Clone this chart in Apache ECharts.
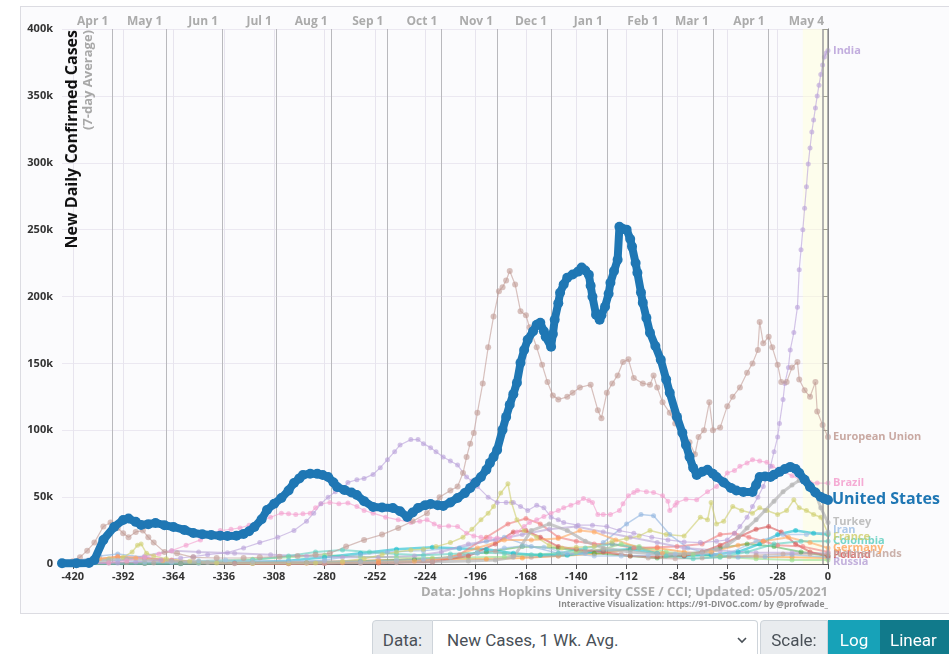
<!DOCTYPE html>
<html><head><meta charset="utf-8">
<script src="https://cdn.jsdelivr.net/npm/echarts@6/dist/echarts.min.js"></script>
<style>
html,body{margin:0;padding:0;width:949px;height:654px;overflow:hidden;background:#fff;}
#frame{position:absolute;left:20px;top:6px;width:940px;height:606px;border:1px solid #dcdce2;border-right:none;background:#fbfbfd;}
#chart{position:absolute;left:0;top:0;width:949px;height:654px;}
.ig{position:absolute;top:620px;height:40px;display:flex;font-family:Roboto,'Liberation Sans',sans-serif;font-size:17px;color:#495057;}
.lab{display:flex;align-items:center;justify-content:center;background:#e9ecef;border:1px solid #ced4da;border-radius:4px 0 0 4px;box-sizing:border-box;height:40px;}
.sel{position:relative;display:flex;align-items:center;padding-left:14px;background:#fff;border:1px solid #ced4da;border-left:none;border-radius:0 4px 4px 0;box-sizing:border-box;height:40px;flex:1;}
.btn{display:flex;align-items:center;justify-content:center;color:#fff;height:40px;box-sizing:border-box;}
</style></head>
<body>
<div id="frame"></div>
<div id="chart"></div>
<div class="ig" style="left:372px;width:386px">
  <span class="lab" style="width:61px">Data:</span>
  <span class="sel">New Cases, 1 Wk. Avg.
    <svg style="position:absolute;right:10px;top:16px" width="10" height="7"><polyline points="1,1 5,5 9,1" fill="none" stroke="#495057" stroke-width="1.6"/></svg>
  </span>
</div>
<div class="ig" style="left:760px;width:200px">
  <span class="lab" style="width:68px">Scale:</span>
  <span class="btn" style="background:#17a2b8;width:52px">Log</span>
  <span class="btn" style="background:#117a8b;width:80px;justify-content:flex-start;padding-left:10px">Linear</span>
</div>
<script>
// ---- data ----
const xTicks = [-420,-392,-364,-336,-308,-280,-252,-224,-196,-168,-140,-112,-84,-56,-28,0];
const monthDays = [-398,-368,-337,-307,-276,-245,-215,-184,-154,-123,-92,-64,-33,0];
const monthLabels = ['Apr 1','May 1','Jun 1','Jul 1','Aug 1','Sep 1','Oct 1','Nov 1','Dec 1','Jan 1','Feb 1','Mar 1','Apr 1','May 4'];
const yTicks = [0,50000,100000,150000,200000,250000,300000,350000,400000];

const usData = [[-426,500],[-418,500],[-411,800],[-408,3000],[-403,18000],[-397,27700],[-392,32900],[-389,34000],[-385,31500],[-382,29200],[-378,29800],[-374,30700],[-369,29000],[-364,27700],[-358,25500],[-353,23200],[-348,22300],[-343,21700],[-338,21200],[-334,21000],[-329,21200],[-325,22500],[-322,24500],[-319,27700],[-315,33500],[-312,40400],[-308,45000],[-304,49400],[-300,55000],[-297,60600],[-294,64000],[-292,66600],[-288,67500],[-284,67400],[-281,66500],[-278,65100],[-275,61000],[-273,57600],[-269,55400],[-265,53500],[-262,51600],[-258,47000],[-253,42700],[-248,42300],[-242,41900],[-238,39500],[-234,35200],[-231,38500],[-228,41900],[-224,44000],[-221,44900],[-217,44000],[-214,43400],[-210,46000],[-206,49400],[-202,53000],[-199,56900],[-196,61000],[-193,65100],[-190,70500],[-188,75600],[-186,80000],[-184,85300],[-181,100300],[-179,110000],[-177,119000],[-175,127000],[-173,135500],[-171,150400],[-169,160000],[-167,167700],[-164,174000],[-162,178900],[-160,180400],[-158,174000],[-157,169900],[-154,162400],[-153,172000],[-152,182600],[-150,195000],[-149,202800],[-147,209000],[-145,214100],[-142,216500],[-139,218600],[-137,221600],[-135,219500],[-133,216300],[-132,208000],[-131,199800],[-129,186400],[-127,182600],[-126,186000],[-124,192400],[-122,202000],[-121,210300],[-119,219000],[-117,227500],[-116,252200],[-114,250500],[-112,250000],[-110,243000],[-109,237300],[-107,225000],[-106,217800],[-104,203000],[-103,195400],[-101,184000],[-99,172900],[-96,163000],[-93,152700],[-90,138000],[-88,128000],[-84,110000],[-81,98100],[-79,89000],[-77,80100],[-75,72000],[-73,66600],[-70,69000],[-67,70400],[-64,67500],[-62,65100],[-58,61000],[-54,56900],[-51,55000],[-47,53900],[-42,53900],[-40,59000],[-38,65100],[-35,65500],[-32,65100],[-30,66800],[-27,68900],[-24,71000],[-21,72600],[-18,71000],[-16,68100],[-13,63000],[-10,57600],[-7,53500],[-4,50100],[-2,48800],[0,47900]];

const euData = [[-426,500],[-420,2000],[-416,5000],[-412,10000],[-408,16000],[-403,28000],[-399,31000],[-395,27000],[-392,23000],[-389,20000],[-385,24000],[-381,25000],[-378,20000],[-375,16000],[-369,9000],[-362,8000],[-353,5000],[-340,4500],[-325,4500],[-316,5000],[-305,5500],[-295,6000],[-285,7000],[-277,8000],[-268,13000],[-258,18000],[-248,22000],[-239,27000],[-231,32000],[-223,38000],[-216,50000],[-210,55000],[-206,58000],[-203,68000],[-201,80000],[-199,90000],[-197,98000],[-195,113000],[-192,135000],[-189,162000],[-186,185000],[-183,204000],[-181,207000],[-179,212000],[-177,219000],[-174,209000],[-171,189000],[-168,186000],[-166,177000],[-162,162000],[-159,149000],[-156,136000],[-153,126000],[-150,123000],[-145,125000],[-142,128000],[-138,132000],[-132,134000],[-128,115000],[-126,109000],[-123,128000],[-120,135000],[-117,141000],[-114,151000],[-111,153000],[-108,139000],[-103,135000],[-99,134000],[-97,141000],[-95,132000],[-92,121000],[-88,113000],[-85,105000],[-82,98000],[-77,91000],[-74,82000],[-72,95000],[-69,100000],[-66,121000],[-64,100000],[-60,102000],[-56,118000],[-53,125000],[-49,132000],[-45,143000],[-42,150000],[-39,160000],[-38,181000],[-36,165000],[-33,170000],[-31,162000],[-28,149000],[-26,136000],[-23,136000],[-20,147000],[-17,151000],[-16,138000],[-13,130000],[-10,125000],[-7,136000],[-6,114000],[-3,104000],[0,95000]];

const indiaData = [[-426,0],[-410,300],[-395,700],[-385,1500],[-371,3000],[-360,4500],[-353,5500],[-345,7000],[-334,8500],[-325,12000],[-316,16000],[-306,20000],[-297,25000],[-290,32000],[-286,38000],[-282,45000],[-278,50000],[-274,54000],[-270,56000],[-267,61000],[-262,63000],[-258,64000],[-253,67000],[-249,72000],[-245,78000],[-241,84000],[-238,89000],[-232,93000],[-228,93000],[-225,90000],[-221,87000],[-218,84000],[-214,80000],[-210,77000],[-206,74000],[-201,65000],[-198,62000],[-195,58000],[-189,50000],[-184,46000],[-179,46000],[-175,46000],[-171,43000],[-167,40000],[-162,44000],[-158,42000],[-154,35000],[-150,33000],[-147,31000],[-139,29000],[-131,29000],[-123,28000],[-116,25000],[-108,23000],[-98,20000],[-89,18000],[-80,16500],[-71,16000],[-62,17000],[-56,18000],[-52,23000],[-49,28000],[-45,35000],[-42,43000],[-39,50000],[-36,58000],[-34,65000],[-32,73000],[-30,84000],[-28,95000],[-27,105000],[-25,123000],[-24,135000],[-22,147000],[-21,160000],[-19,173000],[-17,192000],[-16,220000],[-15,235000],[-14,250000],[-13,266000],[-12,282000],[-11,299000],[-10,311000],[-9,323000],[-8,332000],[-7,341000],[-6,350000],[-5,358000],[-4,366000],[-3,373000],[-2,379000],[-1,382000],[0,384000]];

const brazilData = [[-426,0],[-410,300],[-400,1000],[-390,2500],[-380,5000],[-372,7500],[-365,10000],[-357,14000],[-349,18000],[-343,22000],[-338,25000],[-332,26000],[-327,27000],[-322,29000],[-316,32000],[-310,35000],[-304,38000],[-300,37500],[-296,37000],[-292,37500],[-288,38000],[-285,42000],[-282,45000],[-277,46000],[-272,45000],[-267,45700],[-262,43000],[-258,40000],[-253,38000],[-246,35000],[-239,33000],[-232,31000],[-227,32000],[-223,33000],[-219,30000],[-216,28000],[-211,28500],[-206,28000],[-201,23000],[-197,21000],[-193,20000],[-188,19500],[-184,19500],[-177,20000],[-173,24000],[-169,28000],[-166,31000],[-162,33000],[-158,35500],[-154,38000],[-150,40000],[-147,42000],[-143,44000],[-139,46000],[-136,49000],[-133,47500],[-131,46000],[-128,37000],[-125,37000],[-121,37000],[-116,40000],[-114,45000],[-111,51000],[-108,53500],[-106,55000],[-101,54000],[-97,53500],[-92,51000],[-89,47000],[-88,40000],[-85,44000],[-84,46000],[-79,48500],[-73,48000],[-67,54000],[-62,58000],[-59,63000],[-56,68000],[-52,70000],[-49,73000],[-45,75500],[-42,78000],[-38,77000],[-34,76000],[-31,73000],[-26,70000],[-20,66000],[-14,62000],[-10,61000],[-6,60500],[0,60500]];

const turkeyData = [[-426,0],[-410,1000],[-400,3000],[-390,4000],[-380,3000],[-365,2000],[-345,1200],[-320,1000],[-290,1000],[-260,1200],[-240,1500],[-220,1700],[-200,2200],[-185,3000],[-175,5000],[-165,25000],[-155,30000],[-145,25000],[-135,17000],[-125,12000],[-110,9000],[-95,7500],[-80,7500],[-70,9000],[-62,11000],[-56,14000],[-50,20000],[-45,27000],[-40,33000],[-35,40000],[-30,47000],[-25,54000],[-20,59000],[-16,62500],[-13,63000],[-10,60000],[-7,53000],[-4,42000],[0,31000]];

const franceData = [[-426,200],[-410,2000],[-400,4000],[-392,5000],[-387,9000],[-384,14000],[-382,15000],[-379,8000],[-375,6000],[-368,4000],[-355,2000],[-340,800],[-320,500],[-300,500],[-285,800],[-270,2000],[-258,4000],[-248,7000],[-240,9000],[-232,10500],[-225,11000],[-218,13000],[-210,16000],[-203,20000],[-198,26000],[-193,33000],[-189,38000],[-186,43000],[-182,53000],[-178,60000],[-176,46000],[-173,33000],[-169,25000],[-162,20000],[-155,14000],[-148,12000],[-140,12500],[-130,13000],[-120,17000],[-112,19000],[-105,21000],[-99,25000],[-90,22000],[-80,21000],[-71,35000],[-67,33000],[-65,46000],[-62,30000],[-58,32000],[-53,43000],[-48,40000],[-42,38000],[-38,42000],[-34,40000],[-28,37000],[-23,40000],[-19,48000],[-16,42000],[-12,40000],[-8,37000],[-4,35000],[0,23000]];

const iranData = [[-426,1000],[-410,2500],[-395,2800],[-380,1500],[-365,1200],[-350,2500],[-335,3000],[-320,2500],[-300,2500],[-280,2200],[-260,2000],[-240,3000],[-225,3800],[-210,5000],[-195,8000],[-180,12000],[-170,13500],[-158,12500],[-145,8000],[-130,6000],[-115,6000],[-100,6500],[-85,7500],[-70,7500],[-55,8000],[-40,17000],[-25,22000],[-12,22000],[0,24000]];

const italyData = [[-426,200],[-410,3000],[-395,5500],[-380,4500],[-365,3000],[-350,1500],[-330,500],[-300,250],[-280,300],[-260,1000],[-240,1400],[-220,2000],[-205,7000],[-190,20000],[-178,30000],[-168,34000],[-160,30000],[-150,20000],[-140,17000],[-130,15000],[-120,15000],[-108,12000],[-95,12500],[-84,13000],[-70,15000],[-60,22000],[-52,23000],[-44,20000],[-36,17000],[-28,14000],[-14,13000],[0,9000]];

const polandData = [[-426,0],[-380,300],[-300,500],[-250,700],[-220,1500],[-200,6000],[-185,15000],[-175,24000],[-168,25000],[-160,20000],[-150,13000],[-140,11000],[-125,9000],[-110,6000],[-95,5500],[-80,6000],[-70,9000],[-60,14000],[-50,20000],[-40,26000],[-33,28000],[-26,24000],[-18,15000],[-10,9000],[0,6000]];

const russiaData = [[-426,0],[-400,1000],[-380,6000],[-365,10000],[-350,9000],[-330,8000],[-310,7000],[-290,6000],[-270,5000],[-250,5000],[-230,6000],[-215,9000],[-200,15000],[-185,18000],[-170,22000],[-155,26000],[-140,28000],[-125,24000],[-110,20000],[-95,16000],[-80,12000],[-60,10000],[-40,8500],[-20,8500],[0,8000]];

const germanyData = [[-426,300],[-405,4000],[-395,5500],[-385,4500],[-370,2500],[-350,1000],[-320,400],[-290,500],[-270,1000],[-250,1300],[-230,2000],[-210,5000],[-195,12000],[-180,18000],[-165,18000],[-150,19000],[-138,25000],[-130,24000],[-118,18000],[-105,12000],[-92,8000],[-80,7000],[-65,9000],[-50,14000],[-36,17000],[-22,20000],[-10,16000],[0,12000]];

const spainData = [[-426,200],[-405,6000],[-395,7500],[-380,5000],[-365,2000],[-350,500],[-320,300],[-300,700],[-280,3000],[-260,7000],[-245,9000],[-225,10000],[-205,12000],[-190,17000],[-180,20000],[-165,13000],[-150,8000],[-135,8000],[-125,16000],[-112,30000],[-104,37000],[-97,36000],[-88,22000],[-78,12000],[-64,7000],[-50,5000],[-35,5500],[-20,7000],[0,5000]];

const colombiaData = [[-426,0],[-380,300],[-350,1000],[-320,3000],[-300,6000],[-285,9000],[-270,10500],[-255,9000],[-240,7500],[-225,6500],[-210,7500],[-195,8500],[-180,8000],[-165,7000],[-150,8000],[-135,12000],[-120,15000],[-105,12000],[-90,6000],[-75,4000],[-60,5000],[-45,9000],[-30,15000],[-15,17000],[0,17000]];

const argentinaData = [[-426,0],[-360,200],[-330,700],[-300,2500],[-280,5000],[-260,8000],[-240,11000],[-220,12500],[-205,11500],[-190,11000],[-175,8000],[-160,6500],[-145,6500],[-125,10000],[-110,11000],[-95,8000],[-80,6000],[-65,7000],[-50,9000],[-38,15000],[-28,22000],[-18,25000],[-8,23000],[0,22000]];

const netherlandsData = [[-426,0],[-400,800],[-390,1100],[-375,800],[-360,400],[-330,200],[-300,100],[-280,300],[-260,500],[-240,1000],[-225,2500],[-210,5000],[-195,8500],[-185,9500],[-175,6000],[-165,5000],[-150,6000],[-135,9500],[-125,11000],[-115,7500],[-100,4500],[-85,4000],[-70,4500],[-55,5500],[-40,6500],[-25,7500],[-10,7500],[0,7500]];

const mexicoData = [[-426,0],[-380,700],[-350,2000],[-320,3500],[-300,5000],[-280,6500],[-260,5500],[-240,5000],[-220,4500],[-200,4800],[-180,5500],[-160,7000],[-140,9000],[-125,11000],[-115,15000],[-105,13000],[-90,9000],[-75,7000],[-60,5500],[-40,4000],[-20,3000],[0,3000]];

const ukraineData = [[-426,0],[-360,400],[-320,800],[-290,1000],[-260,2000],[-230,3500],[-210,5000],[-190,9000],[-170,13000],[-150,12000],[-130,8000],[-110,6000],[-95,4500],[-80,6500],[-60,12000],[-45,15000],[-30,13000],[-15,9000],[0,6000]];

const indonesiaData = [[-426,0],[-360,400],[-320,1000],[-280,1800],[-250,2800],[-220,3800],[-190,3800],[-170,4500],[-150,6000],[-130,7500],[-110,11000],[-95,12000],[-80,9000],[-60,6000],[-40,5500],[-20,5000],[0,4500]];

// ---- chart ----
const FONT = "'Open Sans', 'DejaVu Sans', sans-serif";
function minor(name, data, color, opt) {
  opt = opt || {};
  return {
    type: 'line', name: name, data: data, silent: true, z: opt.z || 3,
    symbol: 'circle', symbolSize: opt.sym || 5, showAllSymbol: true,
    lineStyle: { color: color, width: opt.w || 1.2, opacity: opt.op || 0.6 },
    itemStyle: { color: color, opacity: opt.op || 0.6 },
    endLabel: {
      show: opt.label !== false, formatter: '{a}', color: color, opacity: 0.85,
      fontFamily: FONT, fontSize: 11, fontWeight: 'bold', distance: 5,
      offset: [0, opt.dy || 0]
    },
    emphasis: { disabled: true }
  };
}

const chart = echarts.init(document.getElementById('chart'), null, { renderer: 'canvas' });
const option = {
  animation: false,
  textStyle: { fontFamily: FONT },
  grid: { left: 62, right: 121, top: 29, bottom: 90 },
  xAxis: [
    { type: 'value', min: -426, max: 0, position: 'bottom',
      axisLine: { show: true, onZero: false, lineStyle: { color: '#666' } },
      axisTick: { show: true, length: 5, customValues: xTicks, lineStyle: { color: '#555' } },
      axisLabel: { customValues: xTicks, color: '#333', fontWeight: 'bold', fontSize: 11, margin: 7, fontFamily: FONT },
      splitLine: { show: true, lineStyle: { color: '#e7e4ee' } } },
    { type: 'value', min: -426, max: 0, position: 'top',
      axisLine: { show: false },
      axisTick: { show: true, length: 14, customValues: monthDays, lineStyle: { color: '#a6a6aa' } },
      axisLabel: { customValues: monthDays, formatter: function (v) { return monthLabels[monthDays.indexOf(v)]; },
        align: 'right', verticalAlign: 'middle', margin: 7, padding: [0, 4, 0, 0],
        color: '#ababab', fontWeight: 'bold', fontSize: 12, fontFamily: FONT },
      splitLine: { show: true, lineStyle: { color: '#b9b9bd' } } }
  ],
  yAxis: { type: 'value', min: 0, max: 400000, interval: 50000,
    axisLine: { show: true, lineStyle: { color: '#555' } },
    axisTick: { show: true, length: 5, lineStyle: { color: '#555' } },
    axisLabel: { formatter: function (v) { return v === 0 ? '0' : (v / 1000) + 'k'; }, color: '#333', fontWeight: 'bold', fontSize: 11, margin: 9, fontFamily: FONT },
    splitLine: { lineStyle: { color: '#ebe8f1' } } },
  series: [
    { type: 'line', name: 'bg', data: [], z: 1, silent: true,
      markArea: { silent: true, itemStyle: { color: 'rgba(255,255,215,0.45)' }, data: [[{ xAxis: -14 }, { xAxis: 0 }]] },
      markLine: { silent: true, symbol: 'none', label: { show: false }, lineStyle: { color: '#9a9a9e', type: 'solid', width: 1.5 },
        data: [{ xAxis: 0 }, { xAxis: -3 }] } },
    minor('Indonesia', indonesiaData, '#ff9f40', { label: false, w: 2 }),
    minor('Ukraine', ukraineData, '#2ca02c', { label: false, w: 2, op: 0.45 }),
    minor('Mexico', mexicoData, '#98df8a', { label: false, w: 2 }),
    minor('Argentina', argentinaData, '#17becf', { label: false, w: 2.5 }),
    minor('Spain', spainData, '#8fb4e0', { label: false, w: 1.5 }),
    minor('Italy', italyData, '#f08080', { label: false, w: 2 }),
    minor('Russia', russiaData, '#b9a3d6', { w: 2, dy: 9 }),
    minor('Poland', polandData, '#d95b5b', { w: 2, dy: -1 }),
    minor('Netherlands', netherlandsData, '#c2a39c', { w: 1.5, dy: 0 }),
    minor('Germany', germanyData, '#ffa860', { w: 2, dy: 0 }),
    minor('Colombia', colombiaData, '#5fcfbf', { w: 2, dy: 0 }),
    minor('France', franceData, '#cfcf6e', { w: 1.5, dy: 4 }),
    minor('Iran', iranData, '#9fbfe6', { w: 1.5, dy: -2 }),
    minor('Turkey', turkeyData, '#b5b5b5', { w: 3, op: 0.7, dy: -1 }),
    minor('Brazil', brazilData, '#f39ccd', { w: 1.2 }),
    minor('India', indiaData, '#b79fd8', { w: 1.2 }),
    minor('European Union', euData, '#bf9a92', { w: 1.2, sym: 6 }),
    { type: 'line', name: 'United States', data: usData, silent: true, z: 10,
      symbol: 'circle', symbolSize: 10, showAllSymbol: true,
      lineStyle: { color: '#1f77b4', width: 8 },
      itemStyle: { color: '#1f77b4' },
      endLabel: { show: true, formatter: '{a}', color: '#1f77b4', fontFamily: FONT, fontSize: 16, fontWeight: 'bold', distance: 4 },
      emphasis: { disabled: true } }
  ],
  graphic: [
    { type: 'text', x: 72, y: 30, rotation: Math.PI / 2, z: 50,
      style: { text: 'New Daily Confirmed Cases', font: "bold 16px " + FONT, fill: '#111', align: 'right', verticalAlign: 'middle' } },
    { type: 'text', x: 88, y: 30, rotation: Math.PI / 2, z: 50,
      style: { text: '(7-day Average)', font: "bold 13px " + FONT, fill: '#a8a8a8', align: 'right', verticalAlign: 'middle' } },
    { type: 'text', x: 828, y: 592, z: 50,
      style: { text: 'Data: Johns Hopkins University CSSE / CCI; Updated: 05/05/2021', font: "bold 13px " + FONT, fill: '#ababab', align: 'right', verticalAlign: 'middle' } },
    { type: 'text', x: 828, y: 605, z: 50,
      style: { text: 'Interactive Visualization: https://91-DIVOC.com/ by @profwade_', font: "bold 8.5px " + FONT, fill: '#8a8a8a', align: 'right', verticalAlign: 'middle' } }
  ]
};
chart.setOption(option);
</script>
</body></html>
